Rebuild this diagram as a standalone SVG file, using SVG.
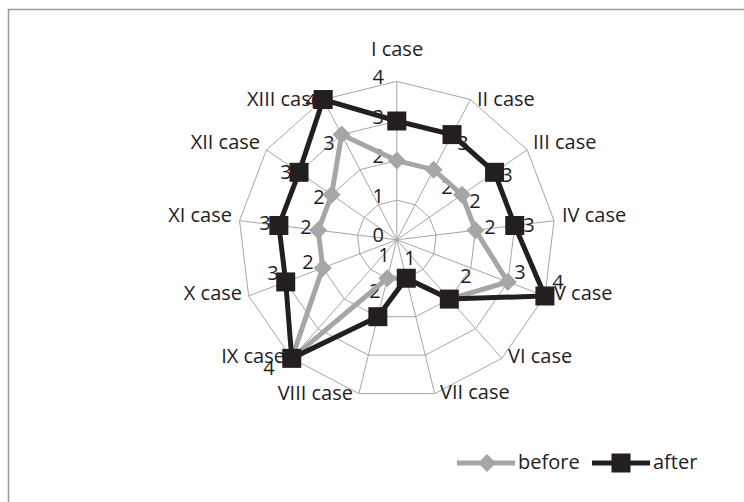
<svg xmlns="http://www.w3.org/2000/svg" xmlns:xlink="http://www.w3.org/1999/xlink" width="744" height="502" viewBox="0 0 744 502">
  <style>
    text { font-family: "Open Sans", "Noto Sans", "Liberation Sans", sans-serif; font-size: 20px; fill: #1e1e1e; }
    .mid { text-anchor: middle; }
    .end { text-anchor: end; }
    .grid { fill: none; stroke: #a6a6a6; stroke-width: 1; }
    .spoke { stroke: #a6a6a6; stroke-width: 1; }
    .before-line { fill: none; stroke: #a6a6a6; stroke-width: 5; stroke-linejoin: miter; }
    .after-line { fill: none; stroke: #231f20; stroke-width: 5; stroke-linejoin: miter; }
    .before-mark { fill: #a6a6a6; }
    .after-mark { fill: #231f20; }
  </style>
  <defs>
    <path id="dm" d="M0,-9 L9,0 L0,9 L-9,0 Z"/>
    <rect id="sq" x="-9.5" y="-9.5" width="19" height="19"/>
  </defs>

  <rect width="744" height="502" fill="#ffffff"/>
  <!-- chart frame (runs past the right and bottom edges) -->
  <path d="M8.5,600 V9.5 H800" fill="none" stroke="#9a9a9a" stroke-width="1.5"/>

  <!-- radar grid -->
  <g id="grid" transform="translate(396.8,239.8)">
    <polygon class="grid" points="0,-39.6 18.40,-35.07 32.59,-22.50 39.31,-4.77 37.03,14.04 26.26,29.64 9.48,38.45 -9.48,38.45 -26.26,29.64 -37.03,14.04 -39.31,-4.77 -32.59,-22.50 -18.40,-35.07"/>
    <polygon class="grid" points="0,-79.2 36.80,-70.13 65.18,-44.99 78.62,-9.55 74.05,28.08 52.52,59.28 18.95,76.90 -18.95,76.90 -52.52,59.28 -74.05,28.08 -78.62,-9.55 -65.18,-44.99 -36.80,-70.13"/>
    <polygon class="grid" points="0,-118.8 55.21,-105.20 97.77,-67.49 117.94,-14.32 111.08,42.13 78.78,88.92 28.43,115.35 -28.43,115.35 -78.78,88.92 -111.08,42.13 -117.94,-14.32 -97.77,-67.49 -55.21,-105.20"/>
    <polygon class="grid" points="0,-158.4 73.61,-140.26 130.36,-89.98 157.25,-19.09 148.11,56.17 105.04,118.56 37.91,153.80 -37.91,153.80 -105.04,118.56 -148.11,56.17 -157.25,-19.09 -130.36,-89.98 -73.61,-140.26"/>
    <line class="spoke" x1="0" y1="0" x2="0" y2="-158.4"/>
    <line class="spoke" x1="0" y1="0" x2="73.61" y2="-140.26"/>
    <line class="spoke" x1="0" y1="0" x2="130.36" y2="-89.98"/>
    <line class="spoke" x1="0" y1="0" x2="157.25" y2="-19.09"/>
    <line class="spoke" x1="0" y1="0" x2="148.11" y2="56.17"/>
    <line class="spoke" x1="0" y1="0" x2="105.04" y2="118.56"/>
    <line class="spoke" x1="0" y1="0" x2="37.91" y2="153.80"/>
    <line class="spoke" x1="0" y1="0" x2="-37.91" y2="153.80"/>
    <line class="spoke" x1="0" y1="0" x2="-105.04" y2="118.56"/>
    <line class="spoke" x1="0" y1="0" x2="-148.11" y2="56.17"/>
    <line class="spoke" x1="0" y1="0" x2="-157.25" y2="-19.09"/>
    <line class="spoke" x1="0" y1="0" x2="-130.36" y2="-89.98"/>
    <line class="spoke" x1="0" y1="0" x2="-73.61" y2="-140.26"/>
  </g>

  <!-- value axis -->
  <g id="axis-labels">
    <text class="end" x="384" y="242.3">0</text>
    <text class="end" x="384" y="202.6">1</text>
    <text class="end" x="384" y="163">2</text>
    <text class="end" x="384" y="123.5">3</text>
    <text class="end" x="384" y="83.7">4</text>
  </g>

  <!-- category labels -->
  <g id="cat-I"><text class="mid" x="397" y="56">I case</text></g>
  <g id="cat-II"><text x="477" y="106">II case</text></g>
  <g id="cat-III"><text x="533" y="149">III case</text></g>
  <g id="cat-IV"><text x="562" y="222">IV case</text></g>
  <g id="cat-V"><text x="554" y="300">V case</text></g>
  <g id="cat-VI"><text x="508" y="363">VI case</text></g>
  <g id="cat-VII"><text x="440" y="399">VII case</text></g>
  <g id="cat-VIII"><text class="end" x="353" y="400">VIII case</text></g>
  <g id="cat-IX"><text class="end" x="285" y="363">IX case</text></g>
  <g id="cat-X"><text class="end" x="242" y="300">X case</text></g>
  <g id="cat-XI"><text class="end" x="232" y="222">XI case</text></g>
  <g id="cat-XII"><text class="end" x="260" y="149">XII case</text></g>
  <g id="cat-XIII"><text class="end" x="322" y="106">XIII case</text></g>

  <!-- data labels -->
  <g id="labels-before">
    <text class="mid" x="329" y="150">3</text>
    <text class="mid" x="447" y="194">2</text>
    <text class="mid" x="475" y="208">2</text>
    <text class="mid" x="490" y="234">2</text>
    <text class="mid" x="520" y="279">3</text>
    <text class="mid" x="466" y="283">2</text>
    <text class="mid" x="384" y="262">1</text>
    <text class="mid" x="308" y="269">2</text>
    <text class="mid" x="306" y="234">2</text>
    <text class="mid" x="319" y="204">2</text>
  </g>
  <g id="labels-after">
    <text class="mid" x="311" y="108">4</text>
    <text class="mid" x="463" y="150">3</text>
    <text class="mid" x="507" y="182">3</text>
    <text class="mid" x="529" y="232">3</text>
    <text class="mid" x="558" y="289">4</text>
    <text class="mid" x="410" y="265">1</text>
    <text class="mid" x="375" y="298">2</text>
    <text class="mid" x="269" y="375">4</text>
    <text class="mid" x="273" y="280">3</text>
    <text class="mid" x="265" y="230">3</text>
    <text class="mid" x="286" y="179">3</text>
  </g>

  <!-- data series -->
  <g id="connectors" transform="translate(396.8,239.8)">
    <polygon id="series-before" class="before-line" points="0,-79.2 36.80,-70.13 65.18,-44.99 78.62,-9.55 111.08,42.13 52.52,59.28 9.48,38.45 -9.48,38.45 -105.04,118.56 -74.05,28.08 -78.62,-9.55 -65.18,-44.99 -55.21,-105.20"/>
    <g class="before-mark">
      <use xlink:href="#dm" x="0" y="-79.2"/>
      <use xlink:href="#dm" x="36.80" y="-70.13"/>
      <use xlink:href="#dm" x="65.18" y="-44.99"/>
      <use xlink:href="#dm" x="78.62" y="-9.55"/>
      <use xlink:href="#dm" x="111.08" y="42.13"/>
      <use xlink:href="#dm" x="52.52" y="59.28"/>
      <use xlink:href="#dm" x="9.48" y="38.45"/>
      <use xlink:href="#dm" x="-9.48" y="38.45"/>
      <use xlink:href="#dm" x="-105.04" y="118.56"/>
      <use xlink:href="#dm" x="-74.05" y="28.08"/>
      <use xlink:href="#dm" x="-78.62" y="-9.55"/>
      <use xlink:href="#dm" x="-65.18" y="-44.99"/>
      <use xlink:href="#dm" x="-55.21" y="-105.20"/>
    </g>
    <polygon id="series-after" class="after-line" points="0,-118.8 55.21,-105.20 97.77,-67.49 117.94,-14.32 148.11,56.17 52.52,59.28 9.48,38.45 -18.95,76.90 -105.04,118.56 -111.08,42.13 -117.94,-14.32 -97.77,-67.49 -73.61,-140.26"/>
    <g class="after-mark">
      <use xlink:href="#sq" x="0" y="-118.8"/>
      <use xlink:href="#sq" x="55.21" y="-105.20"/>
      <use xlink:href="#sq" x="97.77" y="-67.49"/>
      <use xlink:href="#sq" x="117.94" y="-14.32"/>
      <use xlink:href="#sq" x="148.11" y="56.17"/>
      <use xlink:href="#sq" x="52.52" y="59.28"/>
      <use xlink:href="#sq" x="9.48" y="38.45"/>
      <use xlink:href="#sq" x="-18.95" y="76.90"/>
      <use xlink:href="#sq" x="-105.04" y="118.56"/>
      <use xlink:href="#sq" x="-111.08" y="42.13"/>
      <use xlink:href="#sq" x="-117.94" y="-14.32"/>
      <use xlink:href="#sq" x="-97.77" y="-67.49"/>
      <use xlink:href="#sq" x="-73.61" y="-140.26"/>
    </g>
  </g>

  <!-- legend -->
  <g id="legend">
    <line x1="457" y1="463" x2="515" y2="463" stroke="#a6a6a6" stroke-width="5"/>
    <use xlink:href="#dm" x="487" y="463" class="before-mark"/>
    <text x="518" y="469">before</text>
    <line x1="592" y1="463" x2="650" y2="463" stroke="#231f20" stroke-width="5"/>
    <use xlink:href="#sq" x="621" y="463" class="after-mark"/>
    <text x="653" y="469">after</text>
  </g>
</svg>
